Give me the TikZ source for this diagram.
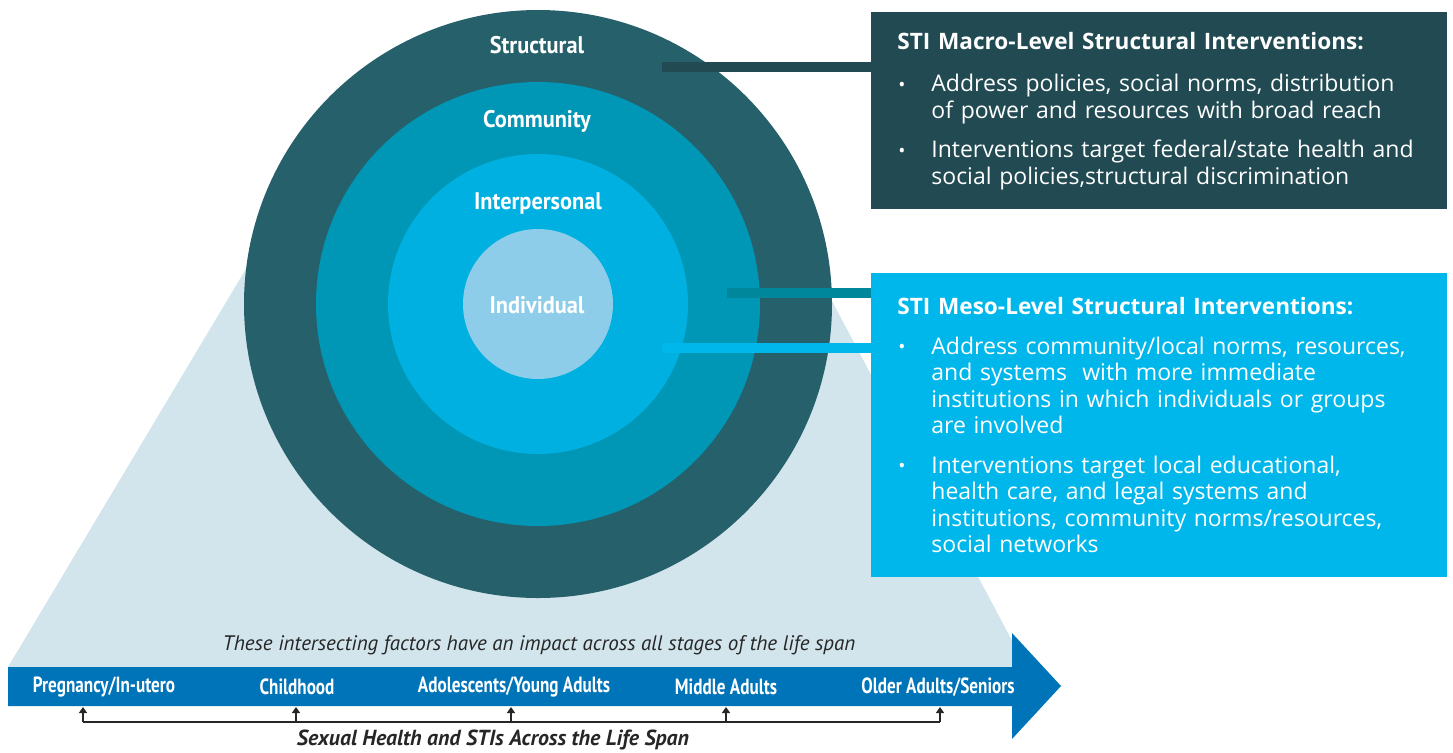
\documentclass[tikz,border=0pt]{standalone}
\usepackage{fontspec}
\setmainfont{Open Sans}
\newfontfamily\ringfont[FakeStretch=0.93]{PT Sans}
\newfontfamily\condfont[FakeStretch=0.78]{PT Sans}
\newfontfamily\notefont{PT Sans}
\usetikzlibrary{arrows.meta,shapes}

\definecolor{outerC}{RGB}{38,97,107}
\definecolor{commC}{RGB}{0,150,181}
\definecolor{interC}{RGB}{0,176,224}
\definecolor{indivC}{RGB}{141,205,233}
\definecolor{lightC}{RGB}{210,229,236}
\definecolor{arrowC}{RGB}{0,116,185}
\definecolor{macroC}{RGB}{33,74,82}
\definecolor{mesoC}{RGB}{0,183,235}
\definecolor{linkC}{RGB}{0,135,156}

\tikzstyle{ring}=[circle,inner sep=0pt]
\tikzstyle{ringlabel}=[text=white,font=\ringfont\bfseries\fontsize{12}{14}\selectfont]
\tikzstyle{stagelabel}=[text=white,font=\condfont\bfseries\fontsize{11}{13}\selectfont]
\tikzstyle{box}=[anchor=north west,inner xsep=13pt,inner ysep=0pt,text width=262pt,
	align=left,text=white,font=\fontsize{11.5}{13.25}\selectfont]
\tikzstyle{link}=[line width=5pt]
\tikzstyle{tick}=[-{Triangle[length=3pt,width=4pt]},line width=1.2pt,black!85]

\newcommand{\bul}{\par\vspace{6.5pt}\leftskip=17pt\noindent
	\llap{\makebox[17pt][l]{\hspace{0.5pt}\raisebox{0.2pt}{\fontsize{9.5}{9}\selectfont\textbullet}}}}

\begin{document}
\begin{tikzpicture}[x=0.5pt,y=-0.5pt]

	\useasboundingbox (0,0) rectangle (1453,752);

	% light cone behind the rings
	\fill[lightC] (317,150) -- (752,150) -- (1026,667) -- (8,667) -- cycle;

	% rings
	\node[ring,fill=outerC,minimum size=294pt] (outer) at (538,304) {};
	\node[ring,fill=commC,minimum size=222pt] (comm) at (538,304) {};
	\node[ring,fill=interC,minimum size=150pt] (inter) at (538,304) {};
	\node[ring,fill=indivC,minimum size=75pt] (indiv) at (538,304) {};

	\node[ringlabel] (lstruct) at (537,45) {Structural};
	\node[ringlabel] (lcomm) at (537,121) {Community};
	\node[ringlabel] (linter) at (538,203) {Interpersonal};
	\node[ringlabel] (lindiv) at (537,305) {Individual};

	% boxes
	\node[box,fill=macroC,minimum width=288pt,minimum height=98.5pt] (macro) at (871,12) {%
		{\fontsize{11.3}{13}\selectfont\textbf{STI Macro-Level Structural Interventions:}}\par\vspace{1.5pt}
		\bul Address policies, social norms, distribution\\of power and resources with broad reach
		\bul Interventions target federal/state health and\\social policies,structural discrimination\par};
	\node[box,fill=mesoC,minimum width=288pt,minimum height=152pt] (meso) at (871,273) {%
		{\fontsize{11.3}{13}\selectfont\textbf{STI Meso-Level Structural Interventions:}}
		\bul Address community/local norms, resources,\\and systems\ \ with more immediate\\institutions in which individuals or groups\\are involved
		\bul Interventions target local educational,\\health care, and legal systems and\\institutions, community norms/resources,\\social networks\par};

	% links from rings to boxes
	\coordinate (s1) at (662,67);
	\coordinate (s2) at (727,293);
	\coordinate (s3) at (662,348);
	\draw[link,macroC] (s1) -- (s1 -| macro.west);
	\draw[link,linkC] (s2) -- (s2 -| meso.west);
	\draw[link,mesoC] (s3) -- (s3 -| meso.west);

	% life span arrow
	\fill[arrowC] (8,667) -- (1012,667) -- (1012,633) -- (1061,686) -- (1012,739)
		-- (1012,706) -- (8,706) -- cycle;

	\node[font=\notefont\itshape\fontsize{10.5}{12}\selectfont,text=black!85] (note) at (539,645)
		{These intersecting factors have an impact across all stages of the life span};

	\foreach \x/\lab [count=\i] in {104/{Pregnancy/In-utero},297/Childhood,
		514/{Adolescents/Young Adults},726/Middle Adults,938/{Older Adults/Seniors}}
		\node[stagelabel] (stage\i) at (\x,687) {\lab};

	\foreach \x [count=\i] in {83,296,511,726,940}{
		\coordinate (t\i) at (\x,707);
		\coordinate (b\i) at (\x,722);
	}
	\draw[line width=1.2pt,black!85] (b1) -- (b5);
	\foreach \i in {1,...,5}
		\draw[tick] (b\i) -- (t\i);

	\node[font=\notefont\bfseries\itshape\fontsize{10.9}{12}\selectfont,text=black!85] (span) at (493,740)
		{Sexual Health and STIs Across the Life Span};
\end{tikzpicture}
\end{document}
